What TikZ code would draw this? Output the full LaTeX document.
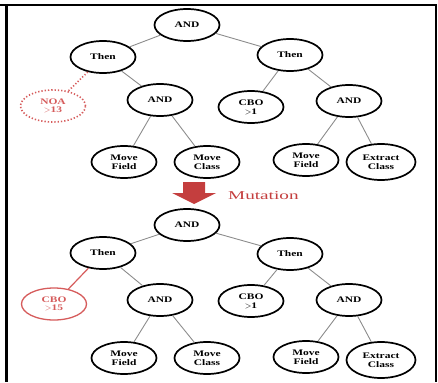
\documentclass[tikz,border=0pt]{standalone}
\usepackage{fontspec}
\setmainfont{Liberation Serif}
\newfontfamily\nodefont[FakeStretch=1.35]{Liberation Serif}
\newfontfamily\mutfont[FakeStretch=1.6]{Liberation Serif}
\definecolor{mutred}{RGB}{196, 62, 62}
\definecolor{lightred}{RGB}{214, 92, 92}
\definecolor{edgegray}{RGB}{140, 140, 140}
\usetikzlibrary{shapes.geometric}
\tikzset{
	gpnode/.style={ellipse, draw=black, line width=1.7pt, fill=white, align=center, inner sep=0pt, minimum width=65pt, minimum height=32pt, font=\nodefont\fontsize{8.5}{9}\selectfont\bfseries},
	cutnode/.style={gpnode, draw=lightred, text=lightred, line width=1.3pt},
	edge/.style={draw=edgegray, line width=0.9pt},
	cutedge/.style={draw=lightred, line width=1.2pt},
	frameline/.style={draw=black, line width=2.2pt},
}

\begin{document}
\begin{tikzpicture}[x=1pt, y=-1pt]
		\useasboundingbox (0,0) rectangle (438,382);
		% frame
		\draw[frameline] (0,5) -- (436,5) -- (436,382);
		\fill[black] (5,4) rectangle (8.3,382);
		% original tree
		\node[gpnode] (root) at (187,25) {AND};
		\node[gpnode] (thenL) at (103,57) {Then};
		\node[cutnode, dotted, line width=1.6pt] (noa) at (53,106) {NOA\\[-1pt]$>$13};
		\node[gpnode] (andL) at (160,100) {AND};
		\node[gpnode] (mfL) at (124,162) {Move\\Field};
		\node[gpnode] (mcL) at (207,162) {Move\\Class};
		\node[gpnode] (thenR) at (290,55) {Then};
		\node[gpnode] (cboR) at (251,107) {CBO\\$>$1};
		\node[gpnode] (andR) at (349,101) {AND};
		\node[gpnode] (mfR) at (306,160) {Move\\Field};
		\node[gpnode, minimum width=69pt, minimum height=36pt] (ecR) at (381,162) {Extract\\Class};
		\draw[edge] (root) -- (thenL);
		\draw[edge] (root) -- (thenR);
		\draw[cutedge, dotted, line width=1.6pt] (thenL) -- (noa);
		\draw[edge] (thenL) -- (andL);
		\draw[edge] (andL) -- (mfL);
		\draw[edge] (andL) -- (mcL);
		\draw[edge] (thenR) -- (cboR);
		\draw[edge] (thenR) -- (andR);
		\draw[edge] (andR) -- (mfR);
		\draw[edge] (andR) -- (ecR);
		% mutation step
		\fill[mutred] (183,182) -- (205,182) -- (205,193) -- (216,193) -- (194,204) -- (172,193) -- (183,193) -- cycle;
		\node[text=mutred, font=\mutfont\fontsize{12}{13}\selectfont, anchor=west, inner sep=0pt] (mutlabel) at (228,196) {Mutation};
		% mutated tree
		\node[gpnode] (mroot) at (187,225) {AND};
		\node[gpnode] (mthenL) at (103,253) {Then};
		\node[cutnode] (mcbo) at (54,304) {CBO\\[-1pt]$>$15};
		\node[gpnode] (mandL) at (160,300) {AND};
		\node[gpnode] (mmfL) at (124,358) {Move\\Field};
		\node[gpnode] (mmcL) at (207,358) {Move\\Class};
		\node[gpnode] (mthenR) at (290,254) {Then};
		\node[gpnode] (mcboR) at (251,301) {CBO\\$>$1};
		\node[gpnode] (mandR) at (349,300) {AND};
		\node[gpnode] (mmfR) at (306,357) {Move\\Field};
		\node[gpnode, minimum width=69pt, minimum height=36pt] (mecR) at (381,360) {Extract\\Class};
		\draw[edge] (mroot) -- (mthenL);
		\draw[edge] (mroot) -- (mthenR);
		\draw[cutedge] (mthenL) -- (mcbo);
		\draw[edge] (mthenL) -- (mandL);
		\draw[edge] (mandL) -- (mmfL);
		\draw[edge] (mandL) -- (mmcL);
		\draw[edge] (mthenR) -- (mcboR);
		\draw[edge] (mthenR) -- (mandR);
		\draw[edge] (mandR) -- (mmfR);
		\draw[edge] (mandR) -- (mecR);
	\end{tikzpicture}
\end{document}
